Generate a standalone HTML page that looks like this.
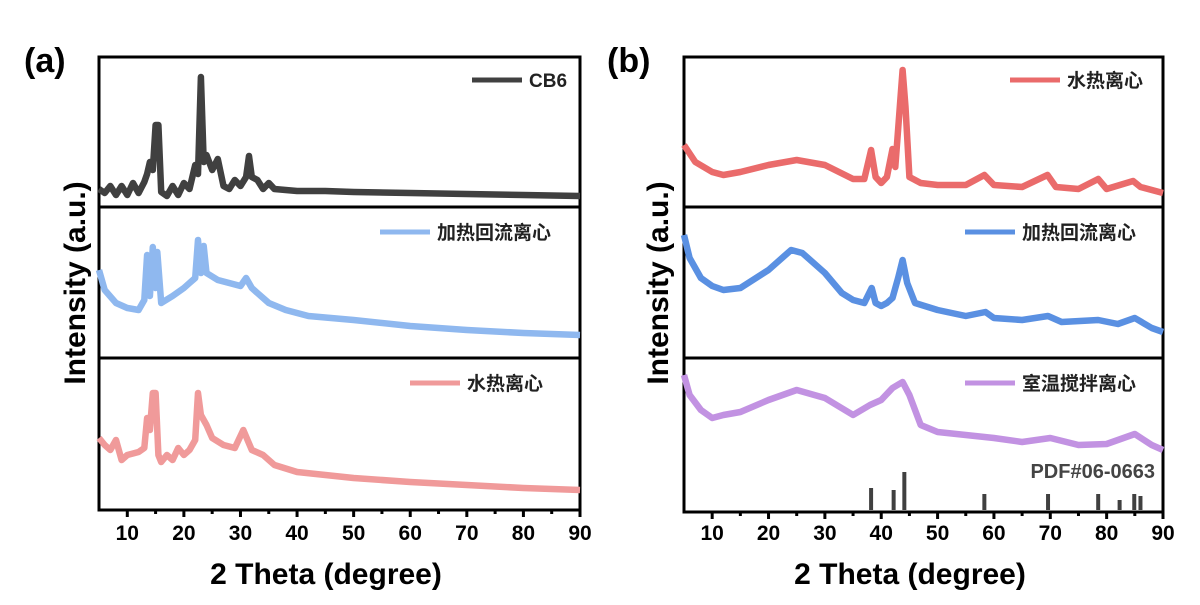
<!DOCTYPE html>
<html><head><meta charset="utf-8"><style>
body{margin:0;background:#fff}
svg text{font-family:"Liberation Sans","Noto Sans CJK SC",sans-serif}
</style></head><body>
<svg id="c" width="1200" height="600" xmlns="http://www.w3.org/2000/svg"></svg>
<script>
// ---- data (intensity a.u., px-scaled) ----
const cb6X=[5,6,7,8,9,10,11,12,13,13.5,14,14.5,15,15.5,16,17,18,19,20,21,22,22.5,23,23.5,24,25,26,27,28,29,30,31,31.5,32,33,34,35,36,38,40,45,50,60,70,80,90];
const cb6Y=[18,14,21,12,21,12,24,14,25,33,45,37,82,82,15,11,21,12,24,18,42,33,130,45,52,37,48,21,18,27,21,30,51,30,27,18,24,18,17,16,16,15,14,13,12,11];
const aBlueX=[5,6,8,10,12,13,13.5,14,14.5,15,15.3,16,18,20,21,22,22.5,23,23.5,24,26,28,30,31,32,33,35,38,42,50,60,70,80,90];
const aBlueY=[88,68,55,50,48,58,103,62,111,70,106,55,62,70,75,80,118,85,112,85,78,75,72,80,70,65,55,48,42,38,32,28,25,23];
const aPinkX=[5,6,7,8,9,10,12,13,13.5,14,14.5,15,15.5,16,17,18,19,20,21,22,22.5,23,24,25,27,29,30.5,32,34,36,40,50,60,70,80,90];
const aPinkY=[72,65,60,70,50,55,58,62,92,80,117,117,55,48,55,50,62,55,60,70,117,95,85,72,65,62,80,60,55,45,38,32,28,25,22,20];
const bRedX=[5,7,10,12,15,20,25,30,35,37,38.2,39,40,41,42,42.5,43.3,43.8,44.3,45,47,50,55,58.3,60,65,69.5,71,75,78.5,80,84.7,86,90];
const bRedY=[62,45,35,32,35,42,47,42,28,28,57,30,24,30,58,40,100,137,100,30,24,22,22,32,22,20,32,20,18,28,18,26,20,14];
const bBlueX=[5,6,8,10,12,15,20,24,26,30,33,35,37,38.3,39,40,41,42,43,43.8,44.6,46,50,55,58.5,60,65,69.6,72,78.5,82,85,88,90];
const bBlueY=[123,100,80,72,68,70,88,108,105,85,65,58,55,70,55,52,55,60,80,98,75,55,48,42,46,40,38,42,36,38,34,40,30,26];
const bPurX=[5,6,8,10,12,15,20,25,30,35,38,40,42,43.8,45,47,50,55,60,65,70,75,80,85,88,90];
const bPurY=[135,115,100,92,95,98,110,120,112,95,105,110,122,128,115,85,78,75,72,68,72,65,66,76,65,60];
const pdfX=[38.2,42.2,44.1,58.3,69.6,78.5,82.3,84.9,86.0];
const pdfH=[22,20,38,16,16,16,10,16,14];
const ticks=[10,20,30,40,50,60,70,80,90];

const svg=document.getElementById('c');const NS='http://www.w3.org/2000/svg';
function mk(t,a,p){const e=document.createElementNS(NS,t);for(const k in a)e.setAttribute(k,a[k]);(p||svg).appendChild(e);return e;}
function txt(s,a){const e=mk('text',a);e.textContent=s;return e;}

function panel(x0,x1,top,bottom,seps,name){
  const sx=v=>x0+(v-5)/85*(x1-x0);
  const g=mk('g',{});
  
  
  mk('rect',{x:x0,y:top,width:x1-x0,height:bottom-top,fill:'none',stroke:'#000','stroke-width':3},g);
  seps.forEach(y=>mk('line',{x1:x0,x2:x1,y1:y,y2:y,stroke:'#000','stroke-width':3},g));
  for(let v=10;v<=90;v+=5){const major=v%10===0;mk('line',{x1:sx(v),x2:sx(v),y1:bottom,y2:bottom+(major?7:4),stroke:'#000','stroke-width':3},g);}
  ticks.forEach(v=>{const t=txt(v,{x:sx(v),y:540,'text-anchor':'middle','font-size':21,'font-weight':'bold'});});
  return sx;
}
function series(sx,xs,ys,base,col,name){
  let d='';xs.forEach((v,i)=>{d+=(i?'L':'M')+sx(v).toFixed(1)+','+(base-ys[i]).toFixed(1);});
  const p=mk('path',{d,fill:'none',stroke:col,'stroke-width':6.5,'stroke-linejoin':'round'});
  
  
}
function legend(x,y,col,label,name){
  const g=mk('g',{});
  
  
  mk('line',{x1:x,x2:x+50,y1:y,y2:y,stroke:col,'stroke-width':5},g);
  const t=mk('text',{x:x+57,y:y+7,'font-size':19,'font-weight':'bold',fill:'#222'},g);t.textContent=label;
}

// panel a
const sa=panel(99,580,57,510,[207,358],'panel-a');
series(sa,cb6X,cb6Y,207,'#404040','series-cb6');
series(sa,aBlueX,aBlueY,358,'#8fb8ef','series-a-reflux');
series(sa,aPinkX,aPinkY,510,'#f09a9a','series-a-hydrothermal');
legend(472,80,'#404040','CB6','legend-cb6');
legend(380,232,'#8fb8ef','加热回流离心','legend-a-reflux');
legend(410,383,'#f09a9a','水热离心','legend-a-hydrothermal');

// panel b
const sb=panel(684,1163,57,512,[207,358],'panel-b');
series(sb,bRedX,bRedY,207,'#ea6b6b','series-b-hydrothermal');
series(sb,bBlueX,bBlueY,358,'#5a90e2','series-b-reflux');
series(sb,bPurX,bPurY,510,'#c292e2','series-b-stirring');
pdfX.forEach((v,i)=>{const l=mk('line',{x1:sb(v),x2:sb(v),y1:510,y2:510-pdfH[i],stroke:'#404040','stroke-width':4});});
legend(1010,80,'#ea6b6b','水热离心','legend-b-hydrothermal');
legend(965,232,'#5a90e2','加热回流离心','legend-b-reflux');
legend(965,383,'#c292e2','室温搅拌离心','legend-b-stirring');
let t=txt('PDF#06-0663',{x:1155,y:478,'text-anchor':'end','font-size':20,'font-weight':'bold',fill:'#444'});

// titles
t=txt('(a)',{x:24,y:72,'font-size':34,'font-weight':'bold'});
t=txt('(b)',{x:607,y:72,'font-size':34,'font-weight':'bold'});
t=txt('2 Theta (degree)',{x:326,y:584,'text-anchor':'middle','font-size':30,'font-weight':'bold'});
t=txt('2 Theta (degree)',{x:910,y:584,'text-anchor':'middle','font-size':30,'font-weight':'bold'});
t=txt('Intensity (a.u.)',{x:0,y:0,'text-anchor':'middle','font-size':30,'font-weight':'bold',transform:'translate(85,283) rotate(-90)'});
t=txt('Intensity (a.u.)',{x:0,y:0,'text-anchor':'middle','font-size':30,'font-weight':'bold',transform:'translate(668,283) rotate(-90)'});
</script>
</body></html>
